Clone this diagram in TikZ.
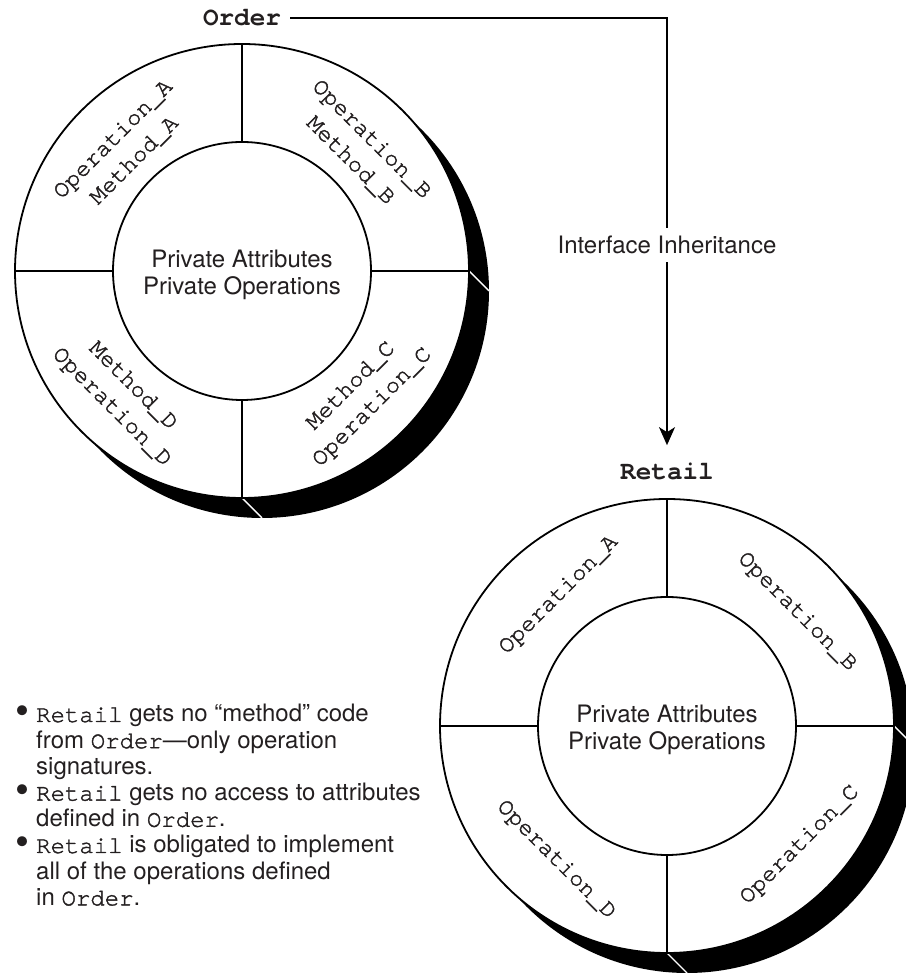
\documentclass[tikz,border=0pt]{standalone}
\usepackage{fontspec}
\setmainfont{TeX Gyre Heros}
\setmonofont{TeX Gyre Cursor}[UprightFeatures={FakeBold=1.6}]
\usetikzlibrary{arrows.meta}
\definecolor{ink}{RGB}{35,31,32}
\begin{document}
\begin{tikzpicture}[x=1pt,y=1pt,
  every node/.style={inner sep=0pt, text=ink},
  ringline/.style={line width=1.8pt, draw=black},
  conn/.style={line width=1.8pt, draw=black},
  title/.style={font=\fontsize{26}{30}\selectfont\ttfamily\bfseries, inner xsep=9pt, inner ysep=18pt},
  oplbl/.style={font=\fontsize{24}{30}\selectfont\ttfamily, align=center},
  ctrtxt/.style={font=\fontsize{24}{27.5}\selectfont, align=center},
  txt/.style={font=\fontsize{24}{26}\selectfont, anchor=base west},
  bul/.style={font=\fontsize{40}{40}\selectfont},
  ring/.pic={
    \fill[black] (20,-20) circle[radius=227];
    \draw[white, line width=1.4pt] (227,0) -- ++(20,-20);
    \draw[white, line width=1.4pt] (0,-227) -- ++(20,-20);
    \draw[ringline, fill=white] (0,0) circle[radius=227];
    \draw[ringline] (0,227) -- (0,129) (0,-129) -- (0,-227)
                    (-227,0) -- (-129,0) (129,0) -- (227,0);
    \draw[ringline, fill=white] (0,0) circle[radius=129];
  }
]
\useasboundingbox (0,0) rectangle (905,974);

% rings
\pic at (242,703) {ring};
\pic at (667,248) {ring};

% titles and connector
\node[title] (order) at (242,956) {Order};
\node[title, anchor=base] (retail) at (667,494) {Retail};
\coordinate (turn) at (667,956);
\draw[conn, -{Stealth[length=18pt,width=16pt,inset=5pt]}] (order.east) -- (turn) -- (retail.north);
\node[font=\fontsize{24}{28}\selectfont, fill=white, inner xsep=3pt, inner ysep=8.5pt] (iface) at (667,729) {Interface Inheritance};

% Order ring labels
\node[ctrtxt] (oP) at (242,699) {Private Attributes\\Private Operations};
\node[oplbl, rotate=45]  (oA) at (124,824) {Operation\_A\\Method\_A};
\node[oplbl, rotate=-45] (oB) at (361,824) {Operation\_B\\Method\_B};
\node[oplbl, rotate=45]  (oC) at (362,577) {Method\_C\\Operation\_C};
\node[oplbl, rotate=-45] (oD) at (122,577) {Method\_D\\Operation\_D};

% Retail ring labels
\node[ctrtxt] (rP) at (667,244) {Private Attributes\\Private Operations};
\node[oplbl, rotate=45]  (rA) at (559,379) {Operation\_A};
\node[oplbl, rotate=-45] (rB) at (797,362) {Operation\_B};
\node[oplbl, rotate=45]  (rC) at (800,129) {Operation\_C};
\node[oplbl, rotate=-45] (rD) at (556,114) {Operation\_D};

% bullet list
\node[bul] (d1) at (23,258.5) {•};
\node[txt] (l1) at (36,252)   {\texttt{Retail} gets no “method” code};
\node[txt] (l2) at (36,225.8) {from \texttt{Order}—only operation};
\node[txt] (l3) at (36,199.6) {signatures.};
\node[bul] (d2) at (23,179.9) {•};
\node[txt] (l4) at (36,173.4) {\texttt{Retail} gets no access to attributes};
\node[txt] (l5) at (36,147.2) {defined in \texttt{Order}.};
\node[bul] (d3) at (23,127.5) {•};
\node[txt] (l6) at (36,121)   {\texttt{Retail} is obligated to implement};
\node[txt] (l7) at (36,94.8)  {all of the operations defined};
\node[txt] (l8) at (36,68.6)  {in \texttt{Order}.};
\end{tikzpicture}
\end{document}
